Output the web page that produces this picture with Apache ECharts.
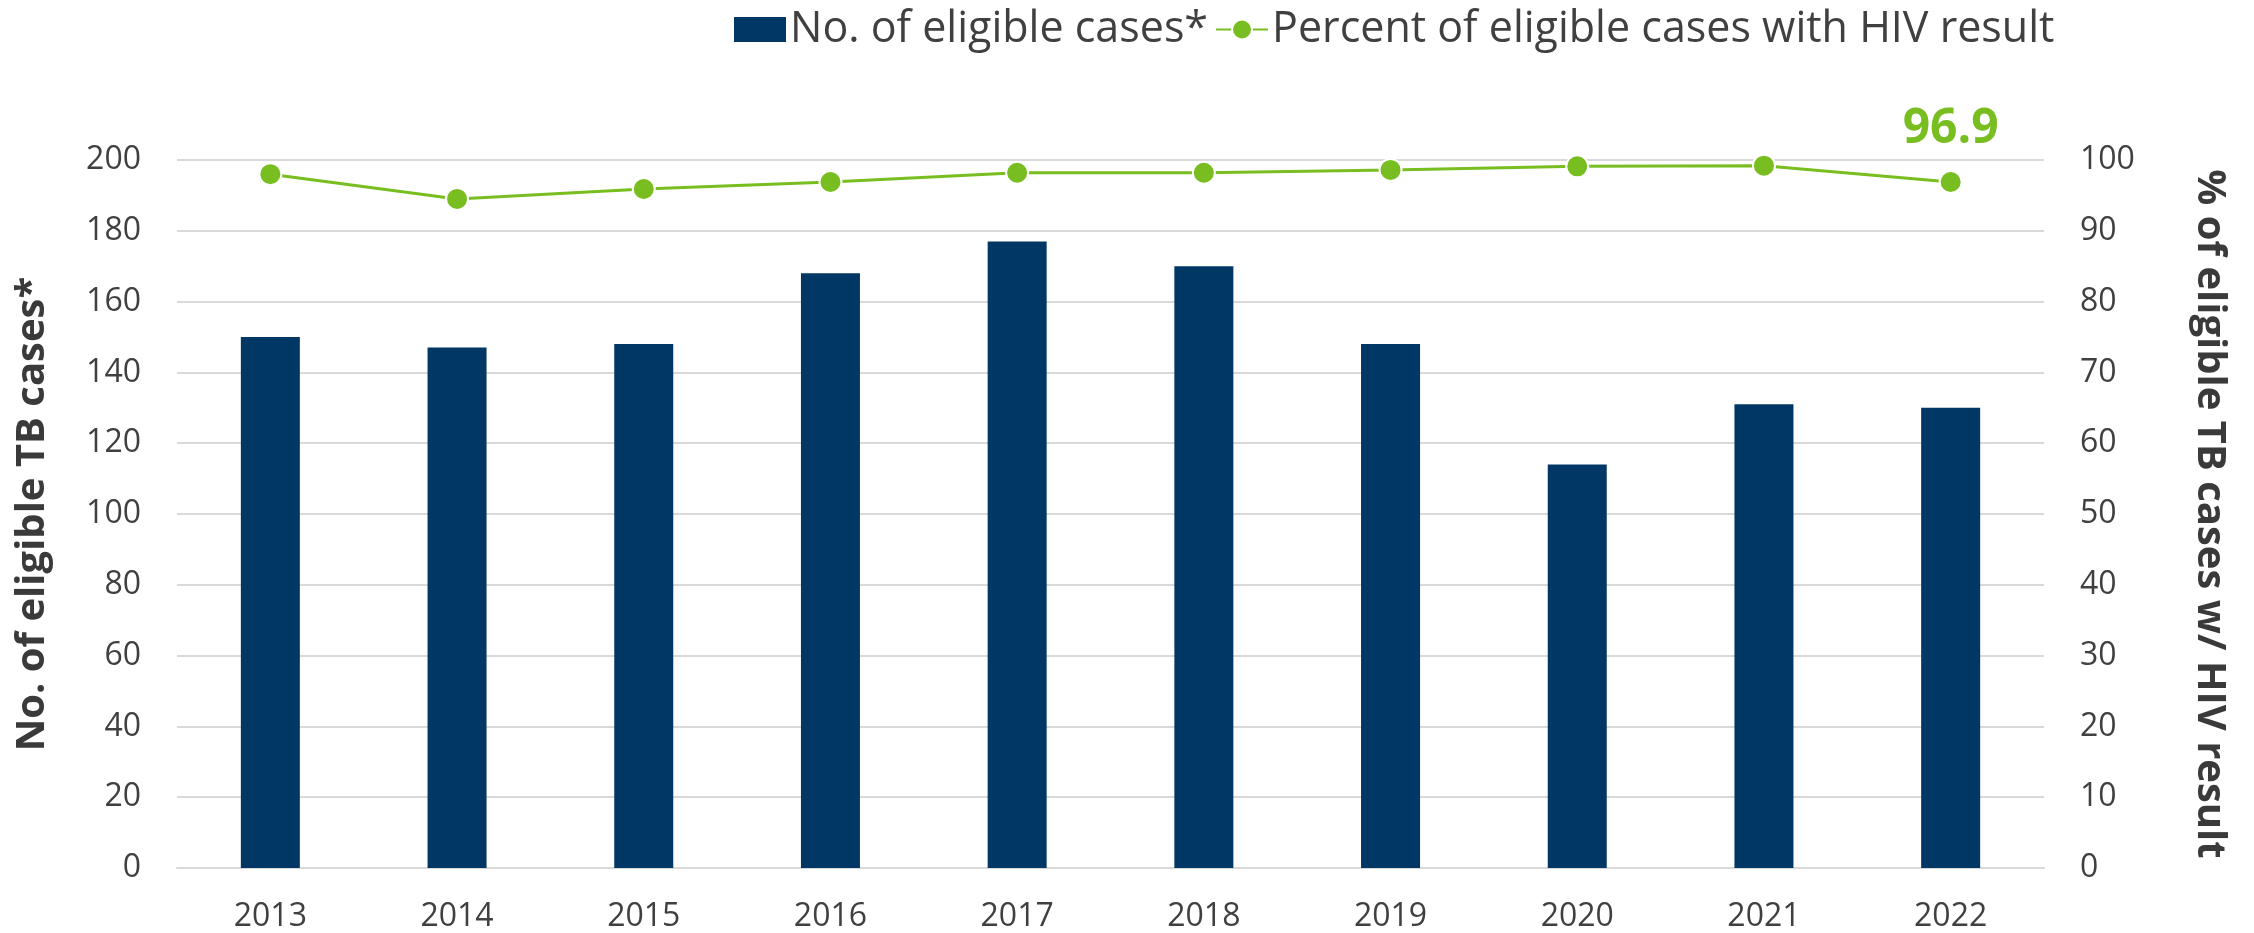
<!DOCTYPE html>
<html>
<head>
<meta charset="utf-8">
<script src="https://cdn.jsdelivr.net/npm/echarts@6/dist/echarts.min.js"></script>
<style>
html,body{margin:0;padding:0;background:#fff;}
#chart{width:2254px;height:933px;}
</style>
</head>
<body>
<div id="chart"></div>
<script>
const years = ['2013','2014','2015','2016','2017','2018','2019','2020','2021','2022'];
const eligibleCases = [150, 147, 148, 168, 177, 170, 148, 114, 131, 130];
const percentWithHIV = [98.0, 94.5, 95.9, 96.9, 98.2, 98.2, 98.6, 99.1, 99.2, 96.9];
const barName = 'No. of eligible cases*';
const lineName = 'Percent of eligible cases with HIV result';
const leftAxisName = 'No. of eligible TB cases*';
const rightAxisName = '% of eligible TB cases w/ HIV result';

const FONT = '"Open Sans", "DejaVu Sans", sans-serif';
const TXT = '#404040';
const GREEN = '#78BE20';
const NAVY = '#003764';
const GRID = '#D9D9D9';

const chart = echarts.init(document.getElementById('chart'), null, {renderer: 'canvas'});
const lastIdx = percentWithHIV.length - 1;
chart.setOption({
  animation: false,
  textStyle: {fontFamily: FONT},
  legend: {
    left: 734, top: 8, padding: 0,
    itemWidth: 52, itemHeight: 25, itemGap: 7,
    textStyle: {fontFamily: FONT, fontSize: 43, color: TXT, padding: [0, 0, 0, -1]},
    data: [
      {name: barName, icon: 'rect'},
      {name: lineName}
    ]
  },
  grid: {left: 177, right: 210, top: 160, bottom: 65, containLabel: false, outerBoundsMode: 'none'},
  xAxis: {
    type: 'category',
    data: years,
    axisLine: {show: true, lineStyle: {color: GRID, width: 2}},
    axisTick: {show: false},
    axisLabel: {fontFamily: FONT, fontSize: 32, color: TXT, margin: 33}
  },
  yAxis: [
    {
      type: 'value', min: 0, max: 200, interval: 20,
      name: leftAxisName, nameLocation: 'middle', nameGap: 124, nameRotate: 90,
      nameTextStyle: {fontFamily: FONT, fontSize: 40, fontWeight: 'bold', color: '#3a3a3a'},
      axisLine: {show: false}, axisTick: {show: false},
      axisLabel: {fontFamily: FONT, fontSize: 32, color: TXT, margin: 36},
      splitLine: {lineStyle: {color: GRID, width: 2}}
    },
    {
      type: 'value', min: 0, max: 100, interval: 10, position: 'right',
      name: rightAxisName, nameLocation: 'middle', nameGap: 145, nameRotate: -90,
      nameTextStyle: {fontFamily: FONT, fontSize: 40, fontWeight: 'bold', color: '#3a3a3a'},
      axisLine: {show: false}, axisTick: {show: false},
      axisLabel: {fontFamily: FONT, fontSize: 32, color: TXT, margin: 36},
      splitLine: {show: false}
    }
  ],
  series: [
    {
      name: barName, type: 'bar', yAxisIndex: 0,
      data: eligibleCases, barWidth: 59,
      itemStyle: {color: NAVY}
    },
    {
      name: lineName, type: 'line', yAxisIndex: 1,
      data: percentWithHIV.map((v, i) => i === lastIdx ? {
        value: v,
        label: {show: true, position: 'top', distance: 17, formatter: '{c}',
          fontFamily: FONT, fontSize: 48, fontWeight: 'bold', color: GREEN}
      } : v),
      symbol: 'circle', symbolSize: 22,
      lineStyle: {color: GREEN, width: 3},
      itemStyle: {color: GREEN, borderColor: '#fff', borderWidth: 2},
      z: 5
    }
  ]
});
</script>
</body>
</html>
